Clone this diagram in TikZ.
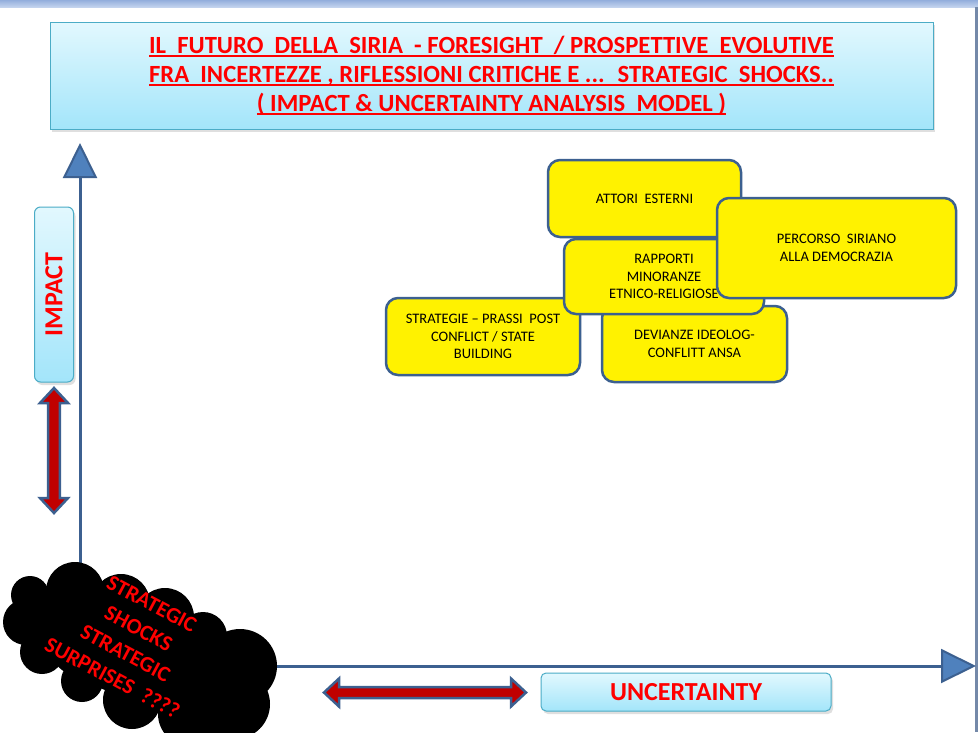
\documentclass[tikz,border=0pt]{standalone}
\usepackage{fontspec}
\setmainfont{Carlito}
\usetikzlibrary{arrows.meta,shadows}
\definecolor{axisblue}{HTML}{3C6090}
\definecolor{axisfill}{HTML}{4F81BD}
\definecolor{cyanlight}{HTML}{E2F8FE}
\definecolor{cyandark}{HTML}{A3E5FA}
\definecolor{cyanborder}{HTML}{4BACC6}
\definecolor{darkred}{HTML}{C00000}
\definecolor{barlight}{HTML}{C3D3EE}
\definecolor{bardark}{HTML}{93AEDC}
\definecolor{stripcol}{HTML}{7489A9}
\newsavebox\ulbox
\newcommand\redul[1]{\sbox\ulbox{#1}\rlap{\rule[-4pt]{\wd\ulbox}{2pt}}\usebox\ulbox}
\tikzset{
  ybox/.style={draw=axisblue, line width=2.5pt, fill=yellow, rounded corners=12pt,
    align=center, font=\fontsize{14.5}{17.5}\selectfont, inner sep=0pt},
  cyanbox/.style={draw=cyanborder, line width=1pt, top color=cyanlight, bottom color=cyandark,
    inner sep=0pt, drop shadow={shadow xshift=2pt, shadow yshift=-3pt, opacity=0.25}},
  axis/.style={draw=axisblue, line width=3pt,
    -{Triangle[width=34pt,length=35pt,fill=axisfill,line width=2pt]}},
  dblarrow/.style={draw=axisblue, line width=2.5pt, fill=darkred, line join=miter},
}
\begin{document}
\begin{tikzpicture}[x=1pt,y=-1pt]
\useasboundingbox (0,0) rectangle (978,732);
\fill[white] (0,0) rectangle (978,732);
% top bar and right strip
\fill[top color=bardark, bottom color=barlight] (0,0) rectangle (978,7);
\fill[stripcol] (975,7) rectangle (978,732);

% title
\node[cyanbox, minimum width=883pt, minimum height=107pt, align=center,
  text=red, font=\fontsize{24.7}{29}\selectfont\bfseries] (title) at (491.5,75.5)
  {\redul{IL~ FUTURO~ DELLA~ SIRIA~ - FORESIGHT~ / PROSPETTIVE~ EVOLUTIVE}\\
   \redul{FRA~ INCERTEZZE , RIFLESSIONI CRITICHE E ...~ STRATEGIC~ SHOCKS..}\\
   \redul{( IMPACT \& UNCERTAINTY ANALYSIS~ MODEL )}};

% axes
\coordinate (O) at (80,666);
\coordinate (ytop) at (80,143);
\coordinate (xend) at (976,666);
\draw[axis] (O) -- (ytop);
\draw[axis] (O) -- (xend);

% impact label
\node[cyanbox, rounded corners=6pt, rotate=90, minimum width=175pt, minimum height=39pt,
  text=red, font=\fontsize{26}{26}\selectfont\bfseries] (impact) at (54,294.5) {IMPACT};

% uncertainty label
\node[cyanbox, rounded corners=5pt, minimum width=290pt, minimum height=38pt,
  text=red, font=\fontsize{26}{26}\selectfont\bfseries] (unc) at (686,692) {UNCERTAINTY};

% double arrows
\draw[dblarrow] (324,692.5) -- (339,678.5) -- (339,687) -- (511,687) -- (511,678.5)
  -- (526,692.5) -- (511,706.5) -- (511,698) -- (339,698) -- (339,706.5) -- cycle;
\draw[dblarrow] (54,388) -- (68,403) -- (59.8,403) -- (59.8,498) -- (68,498)
  -- (54,513) -- (40,498) -- (48.2,498) -- (48.2,403) -- (40,403) -- cycle;

% yellow boxes
\node[ybox, minimum width=193pt, minimum height=77pt] (attori) at (644.5,198.5) {ATTORI~ ESTERNI};
\node[ybox, minimum width=194pt, minimum height=77pt] (strat) at (483,336.5)
  {STRATEGIE -- PRASSI~ POST\\CONFLICT / STATE\\BUILDING};
\node[ybox, minimum width=185pt, minimum height=76pt] (dev) at (694.5,344)
  {DEVIANZE IDEOLOG-\\CONFLITT ANSA};
\node[ybox, minimum width=200pt, minimum height=75pt] (rapp) at (664,276.5)
  {RAPPORTI\\MINORANZE\\ETNICO-RELIGIOSE};
\node[ybox, minimum width=239pt, minimum height=100pt] (perc) at (836.5,248)
  {PERCORSO~ SIRIANO\\ALLA DEMOCRAZIA};

% cloud
\fill[black] (30,597) -- (75,592) -- (120,602) -- (165,617) -- (205,637) -- (240,665)
  -- (235,703) -- (190,713) -- (130,700) -- (80,680) -- (42,652) -- (25,622) -- cycle;
\fill[black] (140,650) ellipse [x radius=90pt, y radius=40pt];
\foreach \cx/\cy/\r in {30/595/19, 75/591/29, 121/603/29, 165/617/29, 203/636/24,
    240/666/37, 235/704/35, 190/714/32, 132/700/29, 82/681/21, 42/652/22, 26/622/23}
  \fill[black] (\cx,\cy) circle [radius=\r pt];
\node[rotate=-28, align=center, text=red, font=\fontsize{22}{28}\selectfont\bfseries]
  (cloudtext) at (132,641) {STRATEGIC\\SHOCKS\\STRATEGIC\\SURPRISES~ ????};
\end{tikzpicture}
\end{document}
